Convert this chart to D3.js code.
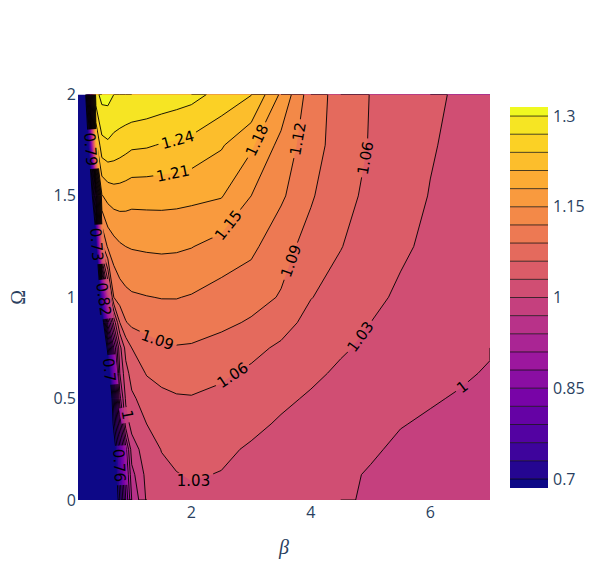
<!DOCTYPE html>
<html><head><meta charset="utf-8">
<script src="https://cdn.jsdelivr.net/npm/d3@7/dist/d3.min.js"></script>
<style>body{margin:0;background:#fff}svg{display:block}</style>
</head><body>
<svg id="c" width="598" height="570"></svg>
<script>
// ---- data ----
const betaVals  = [0.1,0.2,0.3,0.4,0.5,0.6,0.7,0.8,0.9,1.0,1.25,1.5,1.75,2.0,2.5,3.0,3.5,4.0,4.5,5.0,5.5,6.0,6.5,7.0];
const omegaVals = [0,0.125,0.25,0.375,0.5,0.625,0.75,0.875,1.0,1.25,1.5,1.75,2.0];
const zOm0000 = [0.30,0.35,0.40,0.45,0.50,0.55,0.62,0.73,0.85,0.94,1.004,1.015,1.021,1.024,1.022,1.018,1.014,1.009,1.002,0.998,0.993,0.988,0.984,0.980];
const zOm0125 = [0.32,0.37,0.42,0.47,0.52,0.57,0.64,0.755,0.875,0.96,1.009,1.023,1.029,1.032,1.029,1.023,1.017,1.011,1.0045,0.998,0.9935,0.9895,0.9855,0.982];
const zOm0250 = [0.35,0.40,0.45,0.50,0.55,0.60,0.66,0.78,0.90,0.985,1.016,1.031,1.037,1.039,1.035,1.027,1.021,1.014,1.008,1.003,0.996,0.992,0.988,0.985];
const zOm0375 = [0.36,0.41,0.45,0.50,0.545,0.59,0.715,0.85,0.985,1.01,1.03,1.042,1.048,1.049,1.045,1.036,1.027,1.020,1.013,1.007,1.001,0.997,0.993,0.989];
const zOm0500 = [0.38,0.42,0.46,0.50,0.54,0.58,0.75,0.93,1.005,1.025,1.042,1.052,1.057,1.058,1.054,1.045,1.035,1.027,1.019,1.012,1.007,1.002,0.998,0.995];
const zOm0625 = [0.39,0.43,0.47,0.51,0.55,0.64,0.82,0.97,1.02,1.04,1.062,1.07,1.073,1.073,1.064,1.055,1.045,1.035,1.026,1.018,1.012,1.007,1.003,0.998];
const zOm0750 = [0.40,0.44,0.48,0.52,0.56,0.72,0.88,0.99,1.04,1.06,1.078,1.085,1.088,1.087,1.080,1.068,1.055,1.043,1.033,1.025,1.018,1.012,1.007,1.002];
const zOm0875 = [0.41,0.45,0.49,0.53,0.64,0.86,0.98,1.06,1.088,1.097,1.101,1.105,1.106,1.104,1.096,1.087,1.072,1.050,1.041,1.030,1.022,1.015,1.010,1.005];
const zOm1000 = [0.42,0.46,0.50,0.55,0.75,0.98,1.09,1.105,1.112,1.116,1.119,1.121,1.121,1.118,1.108,1.100,1.088,1.061,1.048,1.036,1.026,1.018,1.012,1.008];
const zOm1250 = [0.45,0.50,0.55,0.65,1.08,1.125,1.138,1.146,1.15,1.152,1.154,1.155,1.154,1.151,1.139,1.127,1.100,1.080,1.061,1.046,1.034,1.025,1.018,1.013];
const zOm1500 = [0.45,0.52,0.60,0.85,1.178,1.19,1.195,1.195,1.193,1.19,1.19,1.19,1.189,1.187,1.182,1.150,1.125,1.093,1.070,1.053,1.040,1.029,1.021,1.016];
const zOm1750 = [0.48,0.55,0.75,1.20,1.26,1.265,1.26,1.255,1.25,1.245,1.243,1.238,1.235,1.23,1.213,1.185,1.14,1.102,1.077,1.058,1.044,1.032,1.024,1.018];
const zOm2000 = [0.50,0.60,0.95,1.29,1.31,1.31,1.30,1.30,1.30,1.30,1.295,1.29,1.285,1.28,1.26,1.241,1.175,1.103,1.08,1.059,1.045,1.034,1.027,1.020];
const zRows = [zOm0000,zOm0125,zOm0250,zOm0375,zOm0500,zOm0625,zOm0750,zOm0875,zOm1000,zOm1250,zOm1500,zOm1750,zOm2000];

const contourStart = 0.7, contourEnd = 1.3, contourSize = 0.03;
const xTicks = [2,4,6];
const yTicks = [0,0.5,1,1.5,2];
const cbTicks = [0.7,0.85,1,1.15,1.3];
const plasma = ['#0d0887','#46039f','#7201a8','#9c179e','#bd3786','#d8576b','#ed7953','#fb9f3a','#fdca26','#f0f921'];
// contour labels: level and approximate data position
const labelLevels = [1.24,1.21,1.18,1.12,1.06,1.15,1.09,1.09,1.06,1.03,1.03,1.0,0.79,0.73,0.82,0.7,1.0,0.76];
const labelBeta   = [1.72,1.69,3.06,3.82,4.85,2.6,3.65,1.4,2.68,2.02,4.9,6.5,0.3,0.38,0.52,0.58,0.92,0.75];
const labelOmega  = [1.82,1.61,1.78,1.78,1.69,1.36,1.18,0.77,0.62,0.11,0.79,0.57,1.73,1.26,0.99,0.64,0.42,0.17];

// ---- layout ----
const svg = d3.select('#c');
const L = 78, R = 490, T = 94.5, B = 500;
const x = d3.scaleLinear().domain([0.1,7]).range([L,R]);
const y = d3.scaleLinear().domain([0,2]).range([B,T]);
const zmin = contourStart - contourSize/2, zmax = contourEnd + contourSize/2;
const color = d3.scaleLinear()
  .domain(plasma.map((c,i)=> zmin + (zmax-zmin)*i/(plasma.length-1)))
  .range(plasma).interpolate(d3.interpolateRgb).clamp(true);
const levels = d3.range(0, Math.round((contourEnd-contourStart)/contourSize)+1).map(k=> +(contourStart + k*contourSize).toFixed(4));

const nx = betaVals.length, ny = omegaVals.length;
const values = zRows.flat();
const gi2beta = d3.scaleLinear().domain(d3.range(nx)).range(betaVals).clamp(true);
const gj2om = d3.scaleLinear().domain(d3.range(ny)).range(omegaVals).clamp(true);
const toPx = (gx,gy)=> [x(gi2beta(gx-0.5)), y(gj2om(gy-0.5))];
const proj = d3.geoTransform({point(px,py){const p=toPx(px,py); this.stream.point(p[0],p[1]);}});
const path = d3.geoPath(proj);

const contours = d3.contours().size([nx,ny]).smooth(true).thresholds(levels)(values);

const defs = svg.append('defs');
defs.append('clipPath').attr('id','plotclip').append('rect')
  .attr('x',L).attr('y',T).attr('width',R-L).attr('height',B-T);

const gFill = svg.append('g').attr('clip-path','url(#plotclip)');
gFill.append('rect').attr('x',L).attr('y',T).attr('width',R-L).attr('height',B-T).attr('fill',color(zmin));
contours.forEach(c=>{
  gFill.append('path').attr('d',path(c)).attr('fill',color(c.value + contourSize/2));
});

// contour lines (excluding boundary segments)
function ringToLines(ring){
  const lines=[]; let cur=[];
  const isB=(p,q)=> (p[0]===q[0] && (p[0]===0||p[0]===nx)) || (p[1]===q[1] && (p[1]===0||p[1]===ny));
  let anyB=false;
  for(let i=0;i<ring.length-1;i++){
    const p=ring[i], q=ring[i+1];
    if(isB(p,q)){ anyB=true; if(cur.length>1) lines.push(cur); cur=[]; }
    else { if(!cur.length) cur.push(p); cur.push(q); }
  }
  if(cur.length>1) lines.push(cur);
  if(anyB && lines.length>1 && !isB(ring[0],ring[1]) && !isB(ring[ring.length-2],ring[ring.length-1])){
    const last=lines.pop(); lines[0]=last.concat(lines[0].slice(1));
  }
  return lines.map(l=> l.map(p=> toPx(p[0],p[1])));
}
const levelLines = new Map();
contours.forEach(c=>{
  const arr=[];
  c.coordinates.forEach(poly=> poly.forEach(ring=> ringToLines(ring).forEach(l=>arr.push(l))));
  levelLines.set(c.value, arr);
});

// labels
const fmt = v => String(+v.toFixed(2));
const labelFont = 15;
const gLab = svg.append('g');
const maskRects = [];
labelLevels.forEach((lv,i)=>{
  const lines = levelLines.get(levels.find(l=>Math.abs(l-lv)<1e-6)) || [];
  const ax = x(labelBeta[i]), ay = y(labelOmega[i]);
  let best=null, bd=Infinity;
  lines.forEach((ln,li)=>{
    for(let k=0;k<ln.length-1;k++){
      const p=ln[k], q=ln[k+1], dx=q[0]-p[0], dy=q[1]-p[1], l2=dx*dx+dy*dy;
      let t = l2 ? ((ax-p[0])*dx+(ay-p[1])*dy)/l2 : 0; t=Math.max(0,Math.min(1,t));
      const px=p[0]+t*dx, py=p[1]+t*dy, d=(px-ax)**2+(py-ay)**2;
      if(d<bd){bd=d; best={li,k,pt:[px,py]};}
    }
  });
  if(!best) return;
  const ln = lines[best.li];
  function walk(start, dir, dist){
    let acc=0, j=start, prev=best.pt;
    while(j>=0 && j<ln.length){
      acc+=Math.hypot(ln[j][0]-prev[0], ln[j][1]-prev[1]); prev=ln[j];
      if(acc>=dist) break; j+=dir;
    }
    return prev;
  }
  const p0 = best.pt;
  const a = walk(best.k,-1,10), b = walk(best.k+1,1,10);
  let ang = Math.atan2(b[1]-a[1], b[0]-a[0])*180/Math.PI;
  if(ang>90) ang-=180; if(ang<=-90) ang+=180;
  const t = gLab.append('text').attr('transform',`translate(${p0[0]},${p0[1]}) rotate(${ang})`)
    .attr('text-anchor','middle').attr('dy','0.36em')
    .attr('font-family','"DejaVu Sans", Verdana, sans-serif').attr('font-size',labelFont)
    .attr('fill','#000').text(fmt(lv));
  const w = t.node().getComputedTextLength();
  maskRects.push({x:p0[0],y:p0[1],ang,w});
});
const mask = defs.append('mask').attr('id','lblmask').attr('maskUnits','userSpaceOnUse')
  .attr('x',0).attr('y',0).attr('width',598).attr('height',570);
mask.append('rect').attr('x',0).attr('y',0).attr('width',598).attr('height',570).attr('fill','#fff');
maskRects.forEach(m=> mask.append('rect').attr('x',-m.w/2-3).attr('y',-labelFont*0.5).attr('width',m.w+6).attr('height',labelFont)
  .attr('transform',`translate(${m.x},${m.y}) rotate(${m.ang})`).attr('fill','#000'));

const gLines = svg.insert('g', function(){return gLab.node();}).attr('clip-path','url(#plotclip)')
  .append('g').attr('mask','url(#lblmask)');
const line = d3.line();
levelLines.forEach(arr=> arr.forEach(l=> gLines.append('path').attr('d',line(l)).attr('fill','none')
  .attr('stroke','#000').attr('stroke-width',0.9)));

// axes (labels only)
const tickFont = '"Open Sans", "Noto Sans", sans-serif';
const tc = '#2a3f5f';
svg.append('g').selectAll('text').data(xTicks).join('text')
  .attr('x',d=>x(d)).attr('y',B+18).attr('text-anchor','middle').attr('font-family',tickFont)
  .attr('font-size',16).attr('fill',tc).text(d=>d);
svg.append('g').selectAll('text').data(yTicks).join('text')
  .attr('x',L-2).attr('y',d=>y(d)).attr('dy','0.35em').attr('text-anchor','end').attr('font-family',tickFont)
  .attr('font-size',16).attr('fill',tc).text(d=>d);
svg.append('text').attr('x',(L+R)/2).attr('y',554).attr('text-anchor','middle')
  .attr('font-family','"Liberation Serif",serif').attr('font-style','italic').attr('font-size',20).attr('fill',tc).text('β');
svg.append('text').attr('transform',`translate(25,${(T+B)/2}) rotate(-90)`).attr('text-anchor','middle')
  .attr('font-family','"Liberation Serif",serif').attr('font-size',20).attr('fill',tc).text('Ω');

// colorbar
const cbX = 510, cbW = 38;
const cy = d3.scaleLinear().domain([zmin,zmax]).range([488,107]);
const cb = svg.append('g');
const bandEdges = [zmin].concat(levels).concat([zmax]);
for(let i=0;i<bandEdges.length-1;i++){
  const lo=bandEdges[i], hi=bandEdges[i+1];
  cb.append('rect').attr('x',cbX).attr('y',cy(hi)).attr('width',cbW).attr('height',cy(lo)-cy(hi))
    .attr('fill', i===0? color(zmin) : color(lo+contourSize/2));
}
levels.forEach(l=> cb.append('line').attr('x1',cbX).attr('x2',cbX+cbW).attr('y1',cy(l)).attr('y2',cy(l))
  .attr('stroke','#000').attr('stroke-opacity',0.7).attr('stroke-width',1));
cb.selectAll('text.t').data(cbTicks).join('text').attr('x',cbX+cbW+5).attr('y',d=>cy(d)).attr('dy','0.35em')
  .attr('font-family',tickFont).attr('font-size',16).attr('fill',tc).text(d=>d);
</script>
</body></html>
